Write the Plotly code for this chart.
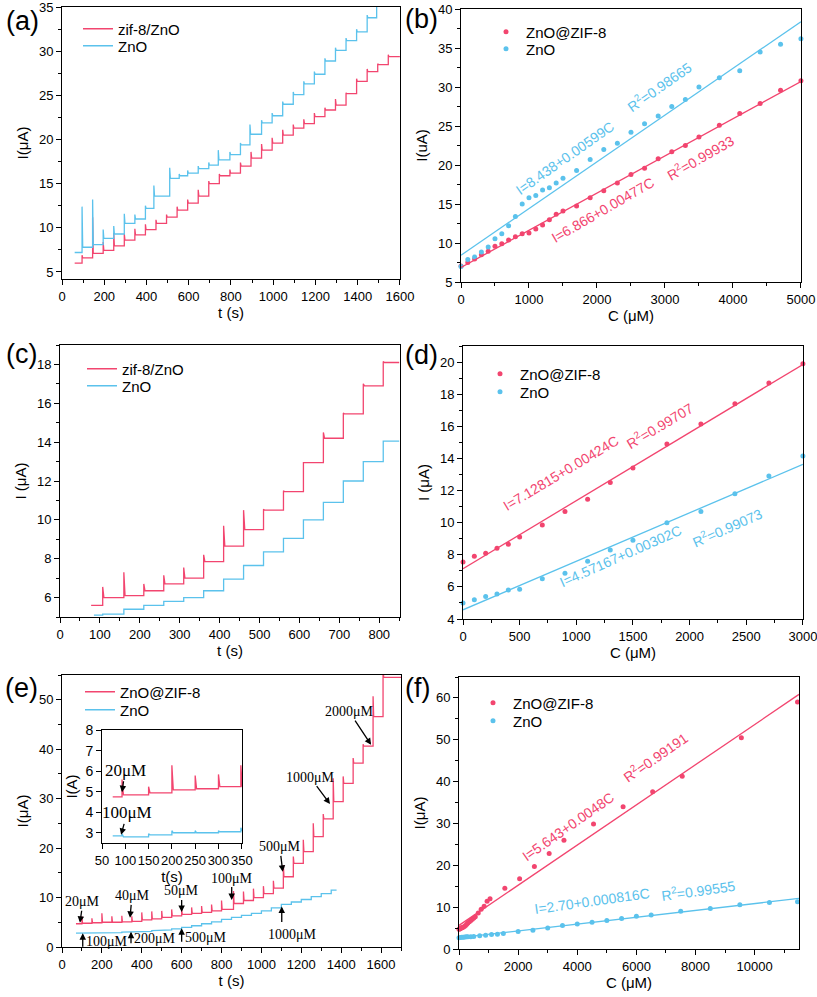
import plotly.graph_objects as go

RED = "#f2456f"
BLUE = "#5bc2ec"
FONT = "Arial, 'Liberation Sans', sans-serif"
SERIF = "'Times New Roman', 'Liberation Serif', serif"

# ---------------- (a) amperometric response ----------------
a_red_start = [60, 6.0]
a_red_steps = [95, 145, 195, 245, 295, 345, 395, 445, 495, 545, 595, 645, 695, 745, 795,
               845, 895, 945, 995, 1045, 1095, 1145, 1195, 1245, 1295, 1345, 1395, 1445, 1495, 1545]
a_red_levels = [6.6, 7.1, 7.45, 7.95, 8.6, 9.2, 9.8, 10.5, 11.2, 12.0, 12.8, 13.6, 15.0, 15.9, 16.2,
                17.0, 17.9, 18.8, 19.6, 20.5, 21.3, 21.8, 22.6, 23.35, 23.9, 25.2, 26.6, 27.7, 28.5, 29.4]
a_red_spikes = [6.9, 11.2, 8.4, 9.4, 9.3, 9.9, 10.4, 10.9, 11.5, 12.4, 13.2, 14.3, 15.3, 16.1, 16.6,
                17.4, 18.6, 19.5, 20.2, 21.1, 21.7, 22.3, 23.0, 23.6, 24.6, 25.3, 26.9, 28.0, 28.6, 29.6]
a_red_end = 1600

a_blue_start = [60, 7.2]
a_blue_steps = [95, 145, 195, 245, 295, 345, 395, 435, 510, 555, 595, 645, 695, 740, 795,
                845, 890, 945, 995, 1045, 1095, 1145, 1195, 1245, 1295, 1345, 1395, 1445, 1490]
a_blue_levels = [7.8, 8.1, 8.8, 9.3, 10.5, 11.0, 12.2, 13.6, 15.6, 15.9, 16.2, 16.7, 17.1, 17.7, 18.3,
                 19.4, 20.6, 21.9, 22.7, 24.0, 25.1, 26.3, 27.4, 28.9, 30.1, 31.2, 32.2, 33.8, 35.2]
a_blue_spikes = [12.4, 13.2, 9.8, 10.2, 11.6, 11.5, 12.5, 14.8, 16.8, 16.1, 16.5, 17.0, 17.4, 18.8, 18.6,
                 19.6, 21.7, 22.2, 23.0, 24.3, 25.4, 26.6, 27.7, 29.2, 30.4, 31.5, 32.5, 34.1, 35.5]
a_blue_end = 1500

# ---------------- (b) calibration ----------------
b_conc = [0, 100, 200, 300, 400, 500, 600, 700, 800, 900, 1000, 1100, 1200, 1300, 1400, 1500,
          1700, 1900, 2100, 2300, 2500, 2700, 2900, 3100, 3300, 3500, 3800, 4100, 4400, 4700, 5000]
b_red = [7.05, 7.5, 7.95, 8.5, 8.95, 9.6, 9.9, 10.4, 10.8, 11.2, 11.3, 11.8, 12.3, 13.0, 13.7, 14.1,
         14.75, 15.8, 16.7, 17.7, 18.8, 19.6, 20.8, 21.7, 22.5, 23.6, 25.1, 26.6, 27.9, 29.6, 30.8]
b_blue = [7.0, 7.9, 8.2, 8.85, 9.5, 10.55, 11.2, 12.2, 13.4, 15.0, 15.8, 16.1, 16.8, 17.1, 17.7, 18.3,
          19.3, 20.7, 22.0, 22.8, 24.2, 25.3, 26.3, 27.5, 28.4, 30.0, 31.2, 32.1, 34.5, 35.5, 36.2]
b_fit_red = [6.866, 0.00477]
b_fit_blue = [8.438, 0.00599]

# ---------------- (c) amperometric response ----------------
c_red_start = [78, 5.6]
c_red_steps = [107, 160, 210, 260, 310, 360, 410, 460, 510, 560, 610, 660, 710, 760, 810]
c_red_levels = [6.0, 6.1, 6.35, 6.7, 7.0, 7.85, 8.65, 9.5, 10.5, 11.45, 12.95, 14.2, 15.45, 16.9, 18.1]
c_red_spikes = [6.55, 7.3, 6.7, 7.15, 7.55, 8.2, 9.7, 10.5, 10.55, 11.5, 12.8, 14.5, 15.5, 17.0, 18.15]
c_red_end = 850

c_blue_start = [85, 5.1]
c_blue_steps = [107, 160, 210, 260, 310, 360, 410, 460, 510, 560, 610, 660, 710, 760, 810]
c_blue_levels = [5.15, 5.4, 5.6, 5.8, 6.0, 6.35, 6.95, 7.65, 8.35, 9.05, 10.0, 10.9, 12.0, 13.0, 14.05]
c_blue_end = 850

# ---------------- (d) calibration ----------------
d_conc = [0, 100, 200, 300, 400, 500, 700, 900, 1100, 1300, 1500, 1800, 2100, 2400, 2700, 3000]
d_red = [7.55, 7.9, 8.1, 8.4, 8.65, 9.1, 9.85, 10.7, 11.45, 12.5, 13.4, 14.9, 16.15, 17.4, 18.7, 19.9]
d_blue = [5.0, 5.2, 5.4, 5.55, 5.8, 5.85, 6.5, 6.85, 7.6, 8.3, 8.9, 10.0, 10.7, 11.8, 12.9, 14.15]
d_fit_red = [7.12815, 0.00424]
d_fit_blue = [4.57167, 0.00302]

# ---------------- (e) amperometric response ----------------
e_red_start = [70, 4.7]
e_red_steps = [100, 150, 200, 250, 300, 350, 400, 450, 500, 550, 600, 650, 700, 750, 800,
               860, 910, 960, 1010, 1060, 1110, 1160, 1210, 1260, 1310, 1360, 1410, 1460, 1510, 1560, 1610]
e_red_levels = [4.8, 4.9, 5.0, 5.0, 5.1, 5.2, 5.5, 5.7, 6.0, 6.3, 6.6, 6.8, 7.0, 7.3, 7.6,
                8.8, 9.4, 10.0, 10.8, 11.9, 14.2, 16.9, 19.3, 22.3, 25.9, 29.4, 33.1, 37.2, 40.6, 46.6, 54.5]
e_red_spikes = [6.2, 5.8, 6.8, 6.2, 6.3, 6.2, 7.0, 7.2, 7.3, 7.6, 7.8, 8.0, 8.3, 8.6, 9.4,
                11.3, 11.2, 11.8, 12.3, 13.4, 16.6, 18.3, 21.7, 25.0, 26.9, 34.1, 34.5, 38.2, 41.0, 50.7, 57.0]
e_red_end = 1700

e_blue_start = [70, 2.8]
e_blue_steps = [100, 150, 200, 250, 300, 350, 400, 450, 500, 550, 600, 650, 700, 750, 800,
                850, 900, 950, 1000, 1050, 1100, 1150, 1200, 1250, 1300, 1350]
e_blue_levels = [2.75, 2.8, 2.85, 2.9, 3.0, 3.05, 3.15, 3.3, 3.45, 3.65, 3.95, 4.3, 4.7, 5.1, 5.6,
                 6.0, 6.4, 6.8, 7.3, 7.9, 8.6, 9.1, 9.6, 10.2, 10.8, 11.5]
e_blue_end = 1377

# inset of (e)
ins_red_start = [73, 4.75]
ins_red_steps = [93, 150, 200, 250, 300, 348]
ins_red_levels = [4.85, 4.95, 5.1, 5.15, 5.25, 5.25]
ins_red_spikes = [5.6, 5.25, 6.3, 5.8, 5.85, 6.3]
ins_blue_start = [73, 2.85]
ins_blue_steps = [93, 150, 200, 250, 300, 348]
ins_blue_levels = [2.8, 2.9, 3.0, 3.0, 3.05, 3.1]
ins_blue_spikes = [2.95, 2.95, 3.1, 3.1, 3.1, 3.25]
ins_end = 350

# ---------------- (f) calibration ----------------
f_red_conc = [0, 20, 40, 60, 80, 100, 140, 180, 220, 260, 300, 350, 400, 450, 500, 550, 650, 750, 850,
              950, 1050, 1550, 2050, 2550, 3050, 3550, 4550, 5550, 6550, 7550, 9550, 11450]
f_red = [4.7, 4.8, 4.9, 5.0, 5.0, 5.1, 5.2, 5.4, 5.6, 5.9, 6.2, 6.5, 6.8, 7.1, 7.4, 7.7, 8.6, 9.5, 10.2,
         11.4, 12.0, 14.5, 16.8, 19.7, 22.8, 26.0, 29.9, 34.0, 37.6, 41.3, 50.5, 59.0]
f_blue_conc = [0, 50, 100, 150, 200, 250, 300, 400, 500, 700, 900, 1100, 1300, 1500, 2000, 2500, 3000,
               3500, 4000, 4500, 5000, 5500, 6000, 6500, 7500, 8500, 9500, 10500, 11450]
f_blue = [2.7, 2.75, 2.8, 2.8, 2.85, 2.9, 2.9, 2.95, 3.0, 3.15, 3.3, 3.45, 3.55, 3.7, 4.2, 4.5, 5.0,
          5.6, 6.0, 6.4, 6.8, 7.3, 7.8, 8.1, 9.0, 9.7, 10.6, 11.1, 11.3]
f_fit_red = [5.643, 0.0048]
f_fit_blue = [2.70, 0.000816]


def step_curve(start, steps, levels, end, spikes=None):
    xs, ys = [start[0]], [start[1]]
    prev = start[1]
    if spikes is None:
        spikes = levels
    for t, lv, sp in zip(steps, levels, spikes):
        xs += [t, t, t + 3]
        ys += [prev, max(sp, lv), lv]
        prev = lv
    xs.append(end)
    ys.append(prev)
    return xs, ys


fig = go.Figure()
W, H = 817, 997


def px_x(v):
    return min(1.0, max(0.0, v / W))


def px_y(v):
    return min(1.0, max(0.0, 1 - v / H))


LEG = {}
LEGFONT = dict(family=FONT, size=15, color="black")


def new_legend(x, y):
    key = "legend" if not LEG else "legend%d" % (len(LEG) + 1)
    LEG[key] = dict(x=px_x(x), y=px_y(y), xanchor="left", yanchor="middle",
                    bgcolor="rgba(0,0,0,0)", font=LEGFONT)
    return key


def line_trace(xy, color, name, xa, ya, leg=None):
    kw = dict(legend=new_legend(*leg)) if leg else {}
    fig.add_trace(go.Scatter(x=xy[0], y=xy[1], mode="lines", name=name,
                             line=dict(color=color, width=1.3), xaxis=xa, yaxis=ya,
                             showlegend=bool(leg), **kw))


def dot_trace(xv, yv, color, name, xa, ya, leg):
    fig.add_trace(go.Scatter(x=xv, y=yv, mode="markers", name=name,
                             marker=dict(color=color, size=5), xaxis=xa, yaxis=ya,
                             legend=new_legend(*leg), cliponaxis=False))


def fit_trace(coef, xmax, color, xa, ya):
    xs = [0, xmax]
    ys = [coef[0] + coef[1] * x for x in xs]
    fig.add_trace(go.Scatter(x=xs, y=ys, mode="lines", line=dict(color=color, width=1.3),
                             xaxis=xa, yaxis=ya, showlegend=False, hoverinfo="skip"))


# (a)
line_trace(step_curve(a_red_start, a_red_steps, a_red_levels, a_red_end, a_red_spikes), RED, "zif-8/ZnO", "x", "y", (78, 29))
line_trace(step_curve(a_blue_start, a_blue_steps, a_blue_levels, a_blue_end, a_blue_spikes), BLUE, "ZnO", "x", "y", (78, 46))
# (b)
dot_trace(b_conc, b_red, RED, "ZnO@ZIF-8", "x2", "y2", (486, 32))
dot_trace(b_conc, b_blue, BLUE, "ZnO", "x2", "y2", (486, 49))
fit_trace(b_fit_red, 5000, RED, "x2", "y2")
fit_trace(b_fit_blue, 5000, BLUE, "x2", "y2")
# (c)
line_trace(step_curve(c_red_start, c_red_steps, c_red_levels, c_red_end, c_red_spikes), RED, "zif-8/ZnO", "x3", "y3", (82, 369))
line_trace(step_curve(c_blue_start, c_blue_steps, c_blue_levels, c_blue_end), BLUE, "ZnO", "x3", "y3", (82, 386))
# (d)
dot_trace(d_conc, d_red, RED, "ZnO@ZIF-8", "x4", "y4", (480, 374))
dot_trace(d_conc, d_blue, BLUE, "ZnO", "x4", "y4", (480, 392))
fit_trace(d_fit_red, 3000, RED, "x4", "y4")
fit_trace(d_fit_blue, 3000, BLUE, "x4", "y4")
# (e)
line_trace(step_curve(e_red_start, e_red_steps, e_red_levels, e_red_end, e_red_spikes), RED, "ZnO@ZIF-8", "x5", "y5", (80, 692))
line_trace(step_curve(e_blue_start, e_blue_steps, e_blue_levels, e_blue_end), BLUE, "ZnO", "x5", "y5", (80, 710))
# inset
line_trace(step_curve(ins_red_start, ins_red_steps, ins_red_levels, ins_end, ins_red_spikes), RED, "in1", "x7", "y7")
line_trace(step_curve(ins_blue_start, ins_blue_steps, ins_blue_levels, ins_end, ins_blue_spikes), BLUE, "in2", "x7", "y7")
# (f)
dot_trace(f_red_conc, f_red, RED, "ZnO@ZIF-8", "x6", "y6", (473, 703))
dot_trace(f_blue_conc, f_blue, BLUE, "ZnO", "x6", "y6", (473, 721))
fit_trace(f_fit_red, 11500, RED, "x6", "y6")
fit_trace(f_fit_blue, 11500, BLUE, "x6", "y6")

TICKF = dict(family=FONT, size=13, color="black")
TITLEF = dict(family=FONT, size=15, color="black")


def ax(dom, rng, dtick, minor, title, anchor, standoff, tickfont=TICKF, fmt=None):
    d = dict(domain=dom, range=rng, dtick=dtick, tick0=0, showgrid=False, zeroline=False,
             showline=True, linecolor="black", linewidth=1, mirror=True, tickangle=0,
             ticks="outside", ticklen=5, tickcolor="black", tickfont=tickfont,
             ticklabeloverflow="allow",
             minor=dict(dtick=minor, ticks="outside", ticklen=3, tickcolor="black", showgrid=False),
             title=dict(text=title, font=TITLEF, standoff=standoff), anchor=anchor, automargin=False)
    if fmt:
        d["tickformat"] = fmt
    return d


XS, YS = 1, 6
layout = dict(
    width=W, height=H, margin=dict(l=0, r=0, t=0, b=0),
    paper_bgcolor="white", plot_bgcolor="white", font=dict(family=FONT),
    xaxis=ax([px_x(62), px_x(400)], [0, 1600.5], 200, 100, "t (s)", "y", XS),
    yaxis=ax([px_y(279), px_y(7)], [4.2, 35.02], 5, 2.5, "I(μA)", "x", YS),
    xaxis2=ax([px_x(461), px_x(801)], [0, 5001], 1000, 500, "C (μM)", "y2", XS),
    yaxis2=ax([px_y(282), px_y(9)], [5, 40.02], 5, 2.5, "I(uA)", "x2", YS),
    xaxis3=ax([px_x(60), px_x(400)], [0, 852], 100, 50, "t (s)", "y3", XS),
    yaxis3=ax([px_y(617), px_y(345)], [5, 19], 2, 1, "I (μA)", "x3", YS),
    xaxis4=ax([px_x(463), px_x(803)], [0, 3001], 500, 250, "C (μM)", "y4", XS),
    yaxis4=ax([px_y(619), px_y(346)], [4, 21], 2, 1, "I (μA)", "x4", YS),
    xaxis5=ax([px_x(62), px_x(401)], [0, 1700], 200, 100, "t (s)", "y5", XS),
    yaxis5=ax([px_y(947), px_y(675)], [0, 55], 10, 5, "I(μA)", "x5", YS),
    xaxis6=ax([px_x(459), px_x(799)], [0, 11500], 2000, 1000, "C (μM)", "y6", XS, fmt="d"),
    yaxis6=ax([px_y(949), px_y(677)], [0, 65], 10, 5, "I(μA)", "x6", YS),
    xaxis7=ax([px_x(102), px_x(242)], [50, 350.5], 50, 25, "t(s)", "y7", 3, dict(family=FONT, size=13, color="black")),
    yaxis7=ax([px_y(843), px_y(730)], [2.5, 8.02], 1, 0.5, "I(A)", "x7", 4, dict(family=FONT, size=14, color="black")),
)
for k in ["xaxis7", "yaxis7"]:
    layout[k]["minor"] = dict(ticks="")
layout.update(LEG)
fig.update_layout(**layout)

ann = []
# panel labels
for lbl, x, y in [("(a)", 4, 21), ("(b)", 403, 19), ("(c)", 4, 354), ("(d)", 403, 355), ("(e)", 3, 688), ("(f)", 403, 688)]:
    ann.append(dict(text=lbl, x=px_x(x), y=px_y(y), xref="paper", yref="paper", xanchor="left", yanchor="middle",
                    showarrow=False, font=dict(family=FONT, size=27, color="black")))


def eq(text, x, y, xa, ya, color, angle):
    ann.append(dict(text=text, x=x, y=y, xref=xa, yref=ya, showarrow=False, textangle=angle,
                    font=dict(family=FONT, size=14, color=color)))


eq("I=8.438+0.00599C", 1530, 20.9, "x2", "y2", BLUE, -35)
eq("R<sup>2</sup>=0.98665", 2926, 30.1, "x2", "y2", BLUE, -35)
eq("I=6.866+0.00477C", 2088, 14.2, "x2", "y2", RED, -30)
eq("R<sup>2</sup>=0.99933", 3529, 21.0, "x2", "y2", RED, -30)
eq("I=7.12815+0.00424C", 865, 13.1, "x4", "y4", RED, -31)
eq("R<sup>2</sup>=0.99707", 1738, 16.1, "x4", "y4", RED, -31)
eq("I=4.57167+0.00302C", 1394, 7.9, "x4", "y4", BLUE, -24)
eq("R<sup>2</sup>=0.99073", 2338, 9.7, "x4", "y4", BLUE, -24)
eq("I=5.643+0.0048C", 3670, 29.2, "x6", "y6", RED, -35)
eq("R<sup>2</sup>=0.99191", 6633, 45.9, "x6", "y6", RED, -35)
eq("I=2.70+0.000816C", 4512, 11.5, "x6", "y6", BLUE, -8)
eq("R<sup>2</sup>=0.99555", 8114, 14.1, "x6", "y6", BLUE, -8)

SF = dict(family=SERIF, size=14, color="black")


def down_arrow(text, x, y, axp, ayp, xa="x5", ya="y5", font=SF):
    ann.append(dict(text=text, x=x, y=y, xref=xa, yref=ya, ax=axp, ay=ayp, showarrow=True,
                    arrowhead=2, arrowsize=1, arrowwidth=1.3, arrowcolor="black", font=font))


down_arrow("20μM", 90, 4.9, 3, -21)
down_arrow("40μM", 341, 5.9, 2, -22)
down_arrow("50μM", 600, 7.1, 0, -21)
down_arrow("100μM", 851, 9.5, 0, -22)
down_arrow("500μM", 1107, 15.2, -3, -25)
down_arrow("1000μM", 1344, 28.9, -20, -27)
down_arrow("2000μM", 1550, 40.9, -22, -33)

# upward arrows for ZnO
for x, y, ayp in [(104, 2.8, 15), (346, 3.1, 13), (600, 3.8, 15), (1102, 8.2, 17)]:
    ann.append(dict(text="", x=x, y=y, xref="x5", yref="y5", ax=0, ay=ayp, showarrow=True,
                    arrowhead=2, arrowsize=1, arrowwidth=1.3, arrowcolor="black"))
for text, x, y, xanc in [("100μM", 112, 1.2, "left"), ("200μM", 352, 1.75, "left"),
                         ("500μM", 606, 1.96, "left"), ("1000μM", 1155, 2.6, "center")]:
    ann.append(dict(text=text, x=x, y=y, xref="x5", yref="y5", xanchor=xanc, showarrow=False, font=SF))

BF = dict(family=SERIF, size=17, color="black")
down_arrow("20μM", 93, 4.98, 3, -22, "x7", "y7", BF)
down_arrow("100μM", 91, 2.9, 6, -22, "x7", "y7", BF)

fig.update_layout(annotations=ann)
fig.write_html("out.html", config={"displayModeBar": False},
               post_script="document.body.style.margin='0px';")
